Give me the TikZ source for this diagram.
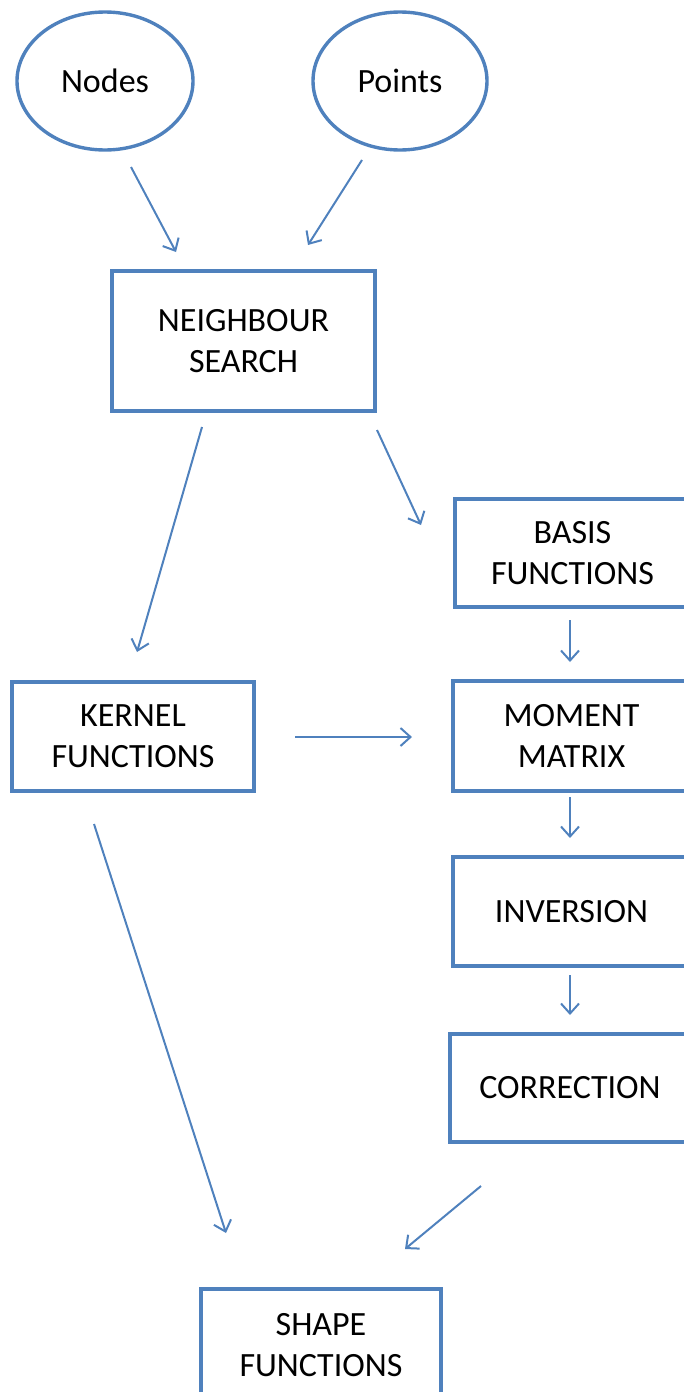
\documentclass[tikz,border=0pt]{standalone}
\usepackage{fontspec}
\setmainfont{Carlito}
\usetikzlibrary{shapes.geometric,arrows.meta}
\definecolor{lineblue}{RGB}{79,129,189}
\tikzset{
  box/.style={draw=lineblue, line width=1.7pt, rectangle, inner sep=0pt, align=center,
    font=\fontsize{17}{20.5}\selectfont},
  oval/.style={draw=lineblue, line width=1.7pt, ellipse, inner sep=0pt, align=center,
    font=\fontsize{17}{20.5}\selectfont},
  arr/.style={draw=lineblue, line width=1pt, -{Straight Barb[length=5pt,width=9pt]}}
}
\begin{document}
\begin{tikzpicture}[x=0.5pt,y=-0.5pt]
\useasboundingbox (0,0) rectangle (684,1392);
\clip (0,0) rectangle (684,1392);
% nodes
\node[oval, minimum width=88pt, minimum height=69pt] (nodes) at (105,81) {Nodes};
\node[oval, minimum width=87pt, minimum height=69pt] (points) at (400,81) {Points};
\node[box, minimum width=131.5pt, minimum height=70pt] (neigh) at (243.5,341) {NEIGHBOUR\\SEARCH};
\node[box, minimum width=117.5pt, minimum height=54pt] (basis) at (572.5,553) {BASIS\\FUNCTIONS};
\node[box, minimum width=121pt, minimum height=54.5pt] (kernel) at (133,736.5) {KERNEL\\FUNCTIONS};
\node[box, minimum width=118.5pt, minimum height=55pt] (moment) at (571.5,736) {MOMENT\\MATRIX};
\node[box, minimum width=118.5pt, minimum height=54.5pt] (inv) at (571.5,911.5) {INVERSION};
\node[box, minimum width=120pt, minimum height=54pt] (corr) at (570,1088) {CORRECTION};
\node[box, minimum width=120pt, minimum height=56pt] (shape) at (321,1345) {SHAPE\\FUNCTIONS};
% arrow end points
\coordinate (a1s) at (131,167);  \coordinate (a1e) at (176,252);
\coordinate (a2s) at (362,160);  \coordinate (a2e) at (308,245);
\coordinate (a3s) at (202,427);  \coordinate (a3e) at (137,652);
\coordinate (a4s) at (377,430);  \coordinate (a4e) at (421,525);
\coordinate (a5s) at (570,620);  \coordinate (a5e) at (570,662);
\coordinate (a6s) at (295,737);  \coordinate (a6e) at (412,737);
\coordinate (a7s) at (570,797);  \coordinate (a7e) at (570,838);
\coordinate (a8s) at (570,975);  \coordinate (a8e) at (570,1015);
\coordinate (a9s) at (94,824);   \coordinate (a9e) at (226,1233);
\coordinate (a10s) at (481,1186); \coordinate (a10e) at (405,1249);
% connectors
\draw[arr] (a1s) -- (a1e);
\draw[arr] (a2s) -- (a2e);
\draw[arr] (a3s) -- (a3e);
\draw[arr] (a4s) -- (a4e);
\draw[arr] (a5s) -- (a5e);
\draw[arr] (a6s) -- (a6e);
\draw[arr] (a7s) -- (a7e);
\draw[arr] (a8s) -- (a8e);
\draw[arr] (a9s) -- (a9e);
\draw[arr] (a10s) -- (a10e);
\end{tikzpicture}
\end{document}
